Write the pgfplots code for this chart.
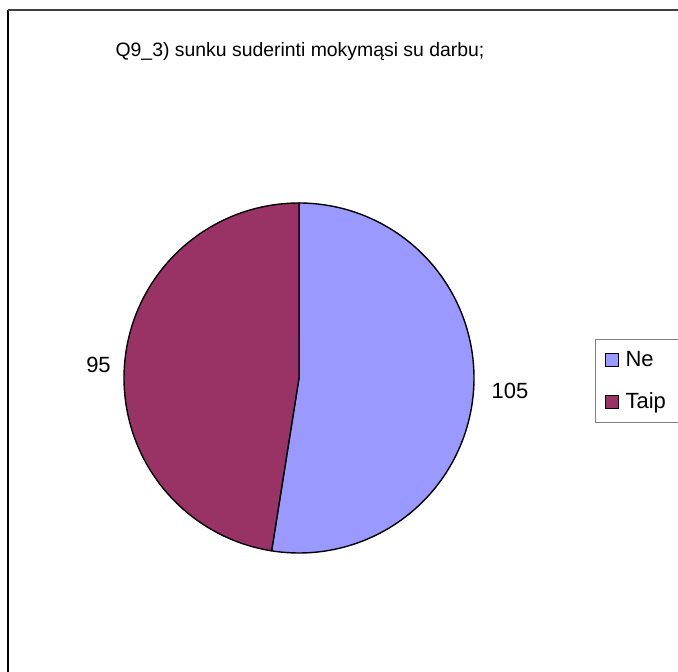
\documentclass[border=0pt]{standalone}
\usepackage{pgfplots}
\pgfplotsset{compat=1.18}
\usepackage{fontspec}
\setmainfont{Liberation Sans}
\definecolor{cNe}{HTML}{9999FF}
\definecolor{cTaip}{HTML}{993366}
\def\vNe{105}
\def\vTaip{95}
\newcommand{\chartfont}{\fontsize{19.4}{22}\selectfont}
\newcommand{\labfont}{\fontsize{22}{25}\selectfont}
\begin{document}
\begin{tikzpicture}
\begin{axis}[
  x=1pt, y=1pt, xmin=0, xmax=678, ymin=0, ymax=672,
  hide axis, clip=false,
  legend style={at={(axis cs:595,333)}, anchor=north west,
    draw=gray, line width=0.8pt, font=\labfont,
    inner xsep=10pt, inner ysep=10pt, row sep=21pt},
  legend cell align=left,
  legend image code/.code={\draw[#1, draw=black, line width=0.8pt] (0pt,-6.5pt) rectangle (13pt,6.5pt); \path (17pt,0pt);},
]
% border
\draw[black, line width=1.2pt] (axis cs:8,-20) -- (axis cs:8,662);
\draw[black!75, line width=1.2pt] (axis cs:8,662) -- (axis cs:700,662);
% pie
\addplot[fill=cNe, draw=black, line width=1.4pt, domain=90:90-360*\vNe/(\vNe+\vTaip), samples=200, variable=\t]
  ({299+175*cos(\t)}, {294+175*sin(\t)}) -- (axis cs:299,294) -- cycle;
\addlegendentry{Ne}
\addplot[fill=cTaip, draw=black, line width=1.4pt, domain=90-360*\vNe/(\vNe+\vTaip):-270, samples=200, variable=\t]
  ({299+175*cos(\t)}, {294+175*sin(\t)}) -- (axis cs:299,294) -- cycle;
\addlegendentry{Taip\rule{12pt}{0pt}}
\node[font=\chartfont] at (axis cs:300,620) {Q9\_3) sunku suderinti mokymąsi su darbu;};
\node[font=\labfont] at (axis cs:98.5,307) {95};
\node[font=\labfont] at (axis cs:510,281) {105};
\end{axis}
\pgfresetboundingbox
\useasboundingbox (current axis.south west) rectangle (current axis.north east);
\end{tikzpicture}
\end{document}
